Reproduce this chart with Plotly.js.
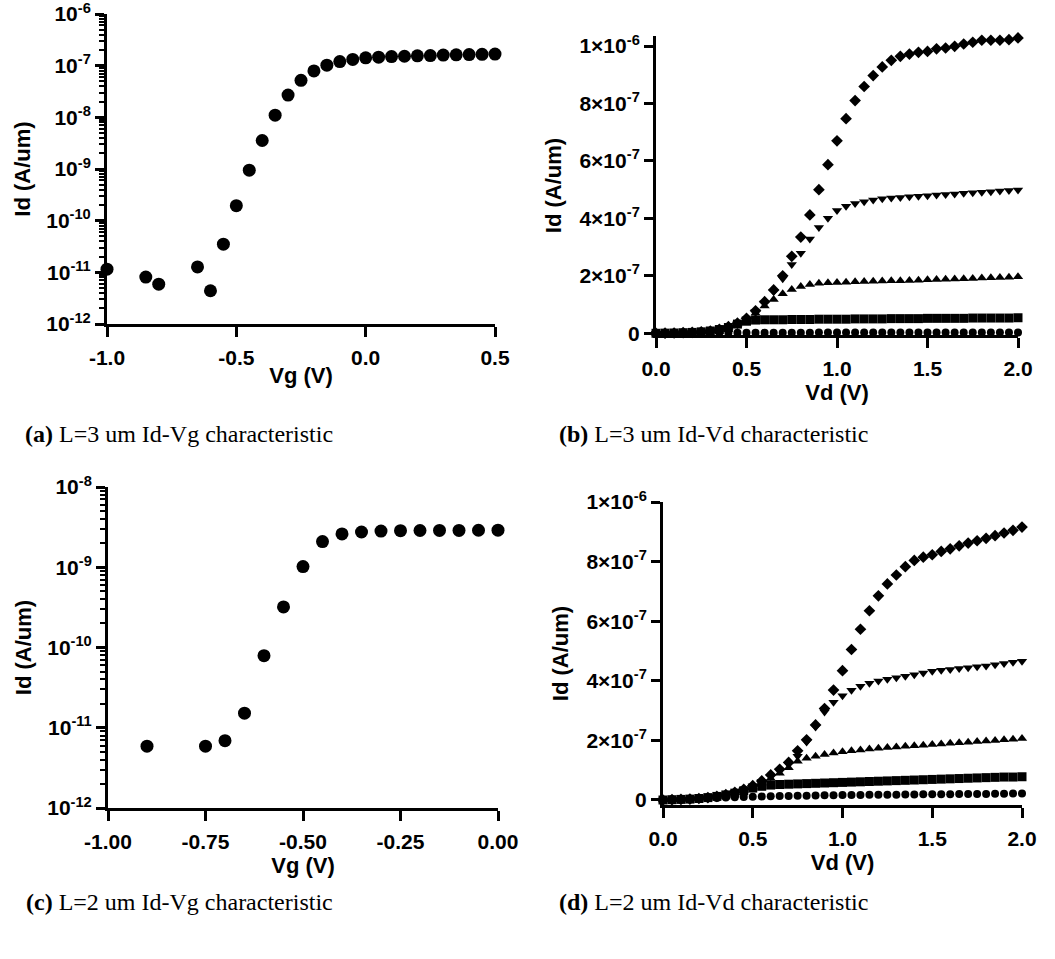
<!DOCTYPE html>
<html>
<head>
<meta charset="utf-8">
<script src="https://cdn.plot.ly/plotly-3.0.1.min.js"></script>
<style>html,body{margin:0;padding:0;background:#fff}#chart{width:1055px;height:959px}</style>
</head>
<body>
<div id="chart"></div>
<script>
// ---- Panel (a): L=3 um Id-Vg ----
const vgA = [-1.0,-0.85,-0.8,-0.65,-0.6,-0.55,-0.5,-0.45,-0.4,-0.35,-0.3,-0.25,-0.2,-0.15,-0.1,-0.05,0.0,0.05,0.1,0.15,0.2,0.25,0.3,0.35,0.4,0.45,0.5];
const idA = [1.15e-11,8.1e-12,5.9e-12,1.27e-11,4.4e-12,3.5e-11,1.95e-10,9.5e-10,3.56e-9,1.1e-8,2.7e-8,5.2e-8,7.9e-8,1.02e-7,1.2e-7,1.32e-7,1.42e-7,1.46e-7,1.5e-7,1.52e-7,1.55e-7,1.57e-7,1.6e-7,1.62e-7,1.64e-7,1.66e-7,1.68e-7];

// ---- Panel (c): L=2 um Id-Vg ----
const vgC = [-0.9,-0.75,-0.7,-0.65,-0.6,-0.55,-0.5,-0.45,-0.4,-0.35,-0.3,-0.25,-0.2,-0.15,-0.1,-0.05,0.0];
const idC = [5.9e-12,5.9e-12,6.9e-12,1.52e-11,7.9e-11,3.2e-10,1.02e-9,2.09e-9,2.6e-9,2.75e-9,2.82e-9,2.86e-9,2.87e-9,2.88e-9,2.88e-9,2.89e-9,2.9e-9];

// ---- Panels (b),(d): Id-Vd, values in nA/um ----
const vd = [0.0,0.05,0.1,0.15,0.2,0.25,0.3,0.35,0.4,0.45,0.5,0.55,0.6,0.65,0.7,0.75,0.8,0.85,0.9,0.95,1.0,1.05,1.1,1.15,1.2,1.25,1.3,1.35,1.4,1.45,1.5,1.55,1.6,1.65,1.7,1.75,1.8,1.85,1.9,1.95,2.0];

const bCircle  = [0,0.2,0.4,0.6,0.8,1,1.2,1.4,1.6,1.7,1.8,1.9,2,2,2.1,2.1,2.2,2.2,2.3,2.3,2.4,2.4,2.4,2.5,2.5,2.5,2.6,2.6,2.6,2.7,2.7,2.7,2.8,2.8,2.8,2.9,2.9,2.9,3,3,3];
const bSquare  = [0,0.5,1,2,3,5,8,13,20,32,42,46,47,47,47,48,48,48,49,49,49,49,50,50,50,50,51,51,51,51,52,52,52,52,52,53,53,53,53,53,54];
const bUp      = [0,0.5,1,2,3,5,8,13,21,32,48,70,95,118,138,152,163,170,174,176,177,178,179,180,181,182,183,183,184,185,186,187,188,189,190,191,192,193,194,195,197];
const bDown    = [0,0.5,1,2,3,5,8,13,21,33,50,75,105,145,190,239,279,328,368,400,427,442,452,458,464,468,471,473,475,477,479,481,483,485,487,489,491,493,495,497,499];
const bDiamond = [0,0.5,1,2,3,5,8,14,23,35,52,78,110,151,200,268,335,412,500,587,670,747,810,859,897,927,950,964,972,978,981,990,993,999,1007,1013,1020,1020,1020,1022,1028];

const dCircle  = [0,2,3,4,5,6,7,8,9,10,11,12,12.5,13,13.5,14,14.5,15,15.5,16,16.5,17,17,17.5,17.5,18,18,18.5,18.5,19,19,19.5,19.5,20,20,20.5,20.5,21,21,21.5,21.5];
const dSquare  = [0,1,2,3,5,8,12,17,23,31,40,46,50,52,53,54,55,56,57,58,59,60,61,62,63,64,65,66,67,68,69,70,71,72,73,74,75,76,77,77,78];
const dUp      = [0,1,2,3,5,8,12,17,24,33,44,57,72,90,108,130,140,147,153,158,162,165,168,171,174,176,178,180,182,184,186,188,190,192,194,196,198,200,202,204,206];
const dDown    = [0,1,2,3,5,8,12,18,26,36,47,62,80,98,120,147,195,245,295,328,350,368,382,392,399,405,410,415,420,426,432,435,438,441,444,447,450,454,458,462,466];
const dDiamond = [0,1,2,3,5,8,12,18,26,36,48,64,84,103,126,165,202,252,307,369,434,505,573,635,685,725,755,783,804,815,823,834,843,853,862,870,878,887,896,905,916];

// ---- tick labels ----
const logValsA = [1e-12,1e-11,1e-10,1e-9,1e-8,1e-7,1e-6];
const logTextA = ['10<sup>-12</sup>','10<sup>-11</sup>','10<sup>-10</sup>','10<sup>-9</sup>','10<sup>-8</sup>','10<sup>-7</sup>','10<sup>-6</sup>'];
const logValsC = [1e-12,1e-11,1e-10,1e-9,1e-8];
const logTextC = ['10<sup>-12</sup>','10<sup>-11</sup>','10<sup>-10</sup>','10<sup>-9</sup>','10<sup>-8</sup>'];
const linVals = [0,2e-7,4e-7,6e-7,8e-7,1e-6];
const linText = ['0','2×10<sup>-7</sup>','4×10<sup>-7</sup>','6×10<sup>-7</sup>','8×10<sup>-7</sup>','1×10<sup>-6</sup>'];
const xValsA = [-1, -0.5, 0, 0.5];
const xTextA = ['-1.0', '-0.5', '0.0', '0.5'];
const xValsC = [-1, -0.75, -0.5, -0.25, 0];
const xTextC = ['-1.00', '-0.75', '-0.50', '-0.25', '0.00'];
const xValsD = [0, 0.5, 1, 1.5, 2];
const xTextD = ['0.0', '0.5', '1.0', '1.5', '2.0'];
const captions = ['L=3 um Id-Vg characteristic','L=3 um Id-Vd characteristic','L=2 um Id-Vg characteristic','L=2 um Id-Vd characteristic'];

function minorLog(lo, hi) {
  const v = [];
  for (let e = lo; e < hi; e++) for (let k = 2; k <= 9; k++) v.push(k * Math.pow(10, e));
  return v;
}
const nA = arr => arr.map(v => v * 1e-9);

const W = 1055, H = 959;
const px = (a, b) => [a / W, b / W];
const py = (top, bot) => [1 - bot / H, 1 - top / H];

const tickFont = {family: 'Liberation Sans, Arial, sans-serif', size: 21, color: '#000', weight: 'bold'};
const titleFont = {family: 'Liberation Sans, Arial, sans-serif', size: 22, color: '#000', weight: 'bold'};

const baseAxis = {
  showgrid: false, zeroline: false, showline: true, linecolor: '#000', linewidth: 3,
  ticks: 'outside', ticklen: 9, tickwidth: 3, tickcolor: '#000',
  tickfont: tickFont, automargin: false, ticklabeloverflow: 'allow'
};

const dot = (x, y, xa, ya, sym, size) => ({
  type: 'scatter', mode: 'markers', x: x, y: y, xaxis: xa, yaxis: ya,
  marker: {symbol: sym, size: size, color: '#000', line: {width: 0}},
  cliponaxis: false, showlegend: false, hoverinfo: 'x+y'
});

const traces = [
  // empty traces that carry the minor-tick overlay axes (drawn first, under the data)
  {type: 'scatter', mode: 'markers', x: [], y: [], xaxis: 'x', yaxis: 'y5', showlegend: false},
  {type: 'scatter', mode: 'markers', x: [], y: [], xaxis: 'x3', yaxis: 'y6', showlegend: false},
  dot(vgA, idA, 'x', 'y', 'circle', 13),
  dot(vd, nA(bCircle), 'x2', 'y2', 'circle', 8),
  dot(vd, nA(bSquare), 'x2', 'y2', 'square', 9),
  dot(vd, nA(bUp), 'x2', 'y2', 'triangle-up', 9),
  dot(vd, nA(bDown), 'x2', 'y2', 'triangle-down', 9),
  dot(vd, nA(bDiamond), 'x2', 'y2', 'diamond', 9),
  dot(vgC, idC, 'x3', 'y3', 'circle', 13),
  dot(vd, nA(dCircle), 'x4', 'y4', 'circle', 8),
  dot(vd, nA(dSquare), 'x4', 'y4', 'square', 9),
  dot(vd, nA(dUp), 'x4', 'y4', 'triangle-up', 9),
  dot(vd, nA(dDown), 'x4', 'y4', 'triangle-down', 9),
  dot(vd, nA(dDiamond), 'x4', 'y4', 'diamond', 9)
];

const minorAxis = (over, anchor, dom, rng, vals) => ({
  overlaying: over, anchor: anchor, side: 'left', domain: dom, type: 'log', range: rng,
  showgrid: false, zeroline: false, showline: true, linecolor: '#000', linewidth: 3,
  showticklabels: false,
  tickmode: 'array', tickvals: vals, ticks: 'outside', ticklen: 5, tickwidth: 2, tickcolor: '#000'
});

const domA = py(14, 324), domC = py(487, 808);

const layout = {
  width: W, height: H, margin: {l: 0, r: 0, t: 0, b: 0},
  paper_bgcolor: '#fff', plot_bgcolor: '#fff', showlegend: false,
  xaxis: Object.assign({}, baseAxis, {domain: px(107, 495), anchor: 'y', range: [-1, 0.5],
    tickmode: 'array', tickvals: xValsA, ticktext: xTextA, ticklen: 10, ticklabelstandoff: 3,
    title: {text: 'Vg (V)', font: titleFont, standoff: 0}}),
  yaxis: Object.assign({}, baseAxis, {domain: domA, anchor: 'x', type: 'log', range: [-12, -6],
    tickmode: 'array', tickvals: logValsA, ticktext: logTextA,
    title: {text: 'Id (A/um)', font: titleFont, standoff: 10}}),
  yaxis5: minorAxis('y', 'x', domA, [-12, -6], minorLog(-12, -6)),
  xaxis2: Object.assign({}, baseAxis, {domain: px(656, 1018), anchor: 'y2', range: [0, 2],
    tickmode: 'array', tickvals: xValsD, ticktext: xTextD, ticklen: 10, ticklabelstandoff: 3,
    title: {text: 'Vd (V)', font: titleFont, standoff: 0}}),
  yaxis2: Object.assign({}, baseAxis, {domain: py(36, 335), anchor: 'x2', range: [-0.006e-6, 1.0348e-6],
    tickmode: 'array', tickvals: linVals, ticktext: linText,
    title: {text: 'Id (A/um)', font: titleFont, standoff: 12}}),
  xaxis3: Object.assign({}, baseAxis, {domain: px(108, 498), anchor: 'y3', range: [-1, 0],
    tickmode: 'array', tickvals: xValsC, ticktext: xTextC, ticklen: 10, ticklabelstandoff: 3,
    title: {text: 'Vg (V)', font: titleFont, standoff: 0}}),
  yaxis3: Object.assign({}, baseAxis, {domain: domC, anchor: 'x3', type: 'log', range: [-12, -8],
    tickmode: 'array', tickvals: logValsC, ticktext: logTextC,
    title: {text: 'Id (A/um)', font: titleFont, standoff: 10}}),
  yaxis6: minorAxis('y3', 'x3', domC, [-12, -8], minorLog(-12, -8)),
  xaxis4: Object.assign({}, baseAxis, {domain: px(663, 1022), anchor: 'y4', range: [0, 2],
    tickmode: 'array', tickvals: xValsD, ticktext: xTextD, ticklen: 10, ticklabelstandoff: 3,
    title: {text: 'Vd (V)', font: titleFont, standoff: 0}}),
  yaxis4: Object.assign({}, baseAxis, {domain: py(502, 805), anchor: 'x4', range: [-0.0168e-6, 1e-6],
    tickmode: 'array', tickvals: linVals, ticktext: linText,
    title: {text: 'Id (A/um)', font: titleFont, standoff: 12}}),
  annotations: [
    {letter: 'a', cx: 179, cy: 434},
    {letter: 'b', cx: 713, cy: 434},
    {letter: 'c', cx: 179, cy: 902},
    {letter: 'd', cx: 713, cy: 902}
  ].map((c, i) => ({
    xref: 'paper', yref: 'paper', x: c.cx / W, y: 1 - c.cy / H, xanchor: 'center', yanchor: 'middle',
    showarrow: false, text: '<b>(' + c.letter + ')</b> ' + captions[i],
    font: {family: 'Liberation Serif, Times New Roman, serif', size: 24, color: '#000'}
  }))
};

Plotly.newPlot('chart', traces, layout, {staticPlot: true, displayModeBar: false});
</script>
</body>
</html>
